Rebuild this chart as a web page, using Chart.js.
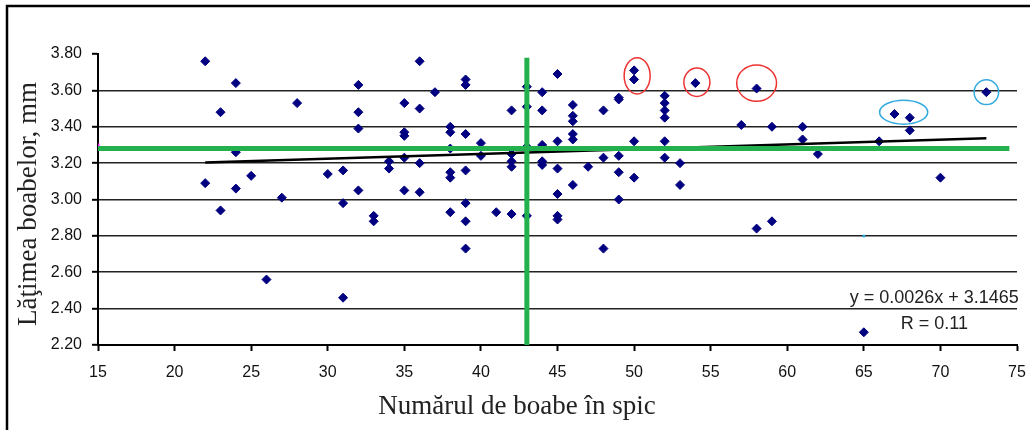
<!DOCTYPE html>
<html>
<head>
<meta charset="utf-8">
<script src="https://cdn.jsdelivr.net/npm/chart.js@4"></script>
<style>
  html, body { margin: 0; padding: 0; background: #fff; }
</style>
</head>
<body>
<canvas id="myChart" width="1030" height="430"></canvas>
<script>
  // numărul de boabe în spic / lăţimea boabelor (mm), câte o pereche pe spic
  const numarBoabe = [
    22, 22, 23, 23, 24, 24, 24, 25, 26, 27, 28, 30,
    31, 31, 31, 32, 32, 32, 32, 33, 33, 34, 34,
    35, 35, 35, 35, 35, 36, 36, 36, 36, 37,
    38, 38, 38, 38, 38, 38, 39, 39, 39, 39, 39, 39, 39,
    40, 40, 41, 42, 42, 42, 42, 42, 43, 43, 43, 43,
    44, 44, 44, 44, 44, 45, 45, 45, 45, 45, 45,
    46, 46, 46, 46, 46, 46, 47, 48, 48, 48,
    49, 49, 49, 49, 49, 50, 50, 50, 50,
    52, 52, 52, 52, 52, 52, 53, 53, 54, 57, 58, 58, 59, 59,
    61, 61, 62, 65, 66, 67, 68, 68, 70, 73
  ];
  const latimeBoabe = [
    3.76, 3.09, 3.48, 2.94, 3.64, 3.26, 3.06, 3.13, 2.56, 3.01, 3.53, 3.14,
    3.16, 2.98, 2.46, 3.63, 3.48, 3.39, 3.05, 2.91, 2.88, 3.21, 3.17,
    3.53, 3.37, 3.35, 3.23, 3.05, 3.76, 3.50, 3.20, 3.04, 3.59,
    3.40, 3.37, 3.28, 3.15, 3.12, 2.93, 3.66, 3.63, 3.36, 3.16, 2.98, 2.88, 2.73,
    3.31, 3.24, 2.93, 3.49, 3.25, 3.21, 3.18, 2.92, 3.62, 3.51, 3.29, 2.91,
    3.59, 3.49, 3.30, 3.21, 3.19, 3.69, 3.32, 3.17, 3.03, 2.91, 2.89,
    3.52, 3.46, 3.43, 3.36, 3.33, 3.08, 3.18, 3.49, 3.23, 2.73,
    3.56, 3.55, 3.24, 3.15, 3.00, 3.71, 3.66, 3.32, 3.12,
    3.57, 3.53, 3.49, 3.45, 3.32, 3.23, 3.20, 3.08, 3.64, 3.41, 3.61, 2.84, 3.40, 2.88,
    3.40, 3.33, 3.25, 2.27, 3.32, 3.47, 3.45, 3.38, 3.12, 3.59
  ];

  // punct izolat (marcaj mic, albastru deschis)
  const punctSeparatX = [65];
  const punctSeparatY = [2.80];

  // mediile: linia orizontală şi cea verticală
  const mediaLatime = 3.28;
  const mediaBoabe = 43;
  const orizontalaX = [15, 74.5];
  const verticalaY = [2.20, 3.78];

  // dreapta de regresie
  const panta = 0.0026;
  const interceptie = 3.1465;
  const regresieX = [22, 73];
  const ecuatie = 'y = 0.0026x + 3.1465';
  const corelatie = 'R = 0.11';
  const pozitieEcuatie = [69.6, 2.457];
  const pozitieCorelatie = [69.6, 2.318];

  // titlurile axelor
  const titluX = 'Numărul de boabe în spic';
  const titluY = 'Lăţimea boabelor, mm';

  // elipsele de evidenţiere: [x, y, razaX, razaY] în unităţile axelor
  const elipseRosii = [
    [50.2, 3.680, 0.85, 0.100],
    [54.1, 3.645, 0.85, 0.078],
    [58.0, 3.640, 1.30, 0.100]
  ];
  const elipseAlbastre = [
    [67.6, 3.480, 1.57, 0.066],
    [73.0, 3.590, 0.80, 0.068]
  ];

  const xTicks = [15, 20, 25, 30, 35, 40, 45, 50, 55, 60, 65, 70, 75];

  const puncte = numarBoabe.map((x, i) => ({ x: x, y: latimeBoabe[i] }));
  const regresie = regresieX.map(x => ({ x: x, y: panta * x + interceptie }));

  const decor = {
    id: 'decor',
    afterDatasetsDraw(chart) {
      const ctx = chart.ctx;
      const xs = chart.scales.x, ys = chart.scales.y;
      ctx.save();
      const elipsa = (e, culoare) => {
        const cx = xs.getPixelForValue(e[0]), cy = ys.getPixelForValue(e[1]);
        const rx = Math.abs(xs.getPixelForValue(e[0] + e[2]) - cx);
        const ry = Math.abs(ys.getPixelForValue(e[1] + e[3]) - cy);
        ctx.beginPath();
        ctx.ellipse(cx, cy, rx, ry, 0, 0, Math.PI * 2);
        ctx.strokeStyle = culoare;
        ctx.lineWidth = 1.5;
        ctx.stroke();
      };
      elipseRosii.forEach(e => elipsa(e, '#ee3333'));
      elipseAlbastre.forEach(e => elipsa(e, '#33aadd'));

      ctx.fillStyle = '#222';
      ctx.font = '18px "Liberation Sans", Arial, sans-serif';
      ctx.textAlign = 'center';
      ctx.textBaseline = 'middle';
      ctx.fillText(ecuatie, xs.getPixelForValue(pozitieEcuatie[0]), ys.getPixelForValue(pozitieEcuatie[1]));
      ctx.fillText(corelatie, xs.getPixelForValue(pozitieCorelatie[0]), ys.getPixelForValue(pozitieCorelatie[1]));
      ctx.restore();
    },
    afterDraw(chart) {
      const ctx = chart.ctx;
      ctx.save();
      // titlurile axelor
      ctx.fillStyle = '#222';
      ctx.font = '27px "Liberation Serif", "Times New Roman", serif';
      ctx.textAlign = 'center';
      ctx.textBaseline = 'middle';
      ctx.fillText(titluX, 517, 407);
      ctx.translate(29, 204);
      ctx.rotate(-Math.PI / 2);
      ctx.fillText(titluY, 0, 0);
      ctx.setTransform(1, 0, 0, 1, 0, 0);
      // chenarul (sus şi stânga)
      ctx.strokeStyle = '#000';
      ctx.lineWidth = 2.5;
      ctx.beginPath();
      ctx.moveTo(7, 440);
      ctx.lineTo(7, 6);
      ctx.lineTo(1030, 6);
      ctx.stroke();
      ctx.restore();
    }
  };

  const data = {
    datasets: [
      {
        label: 'media boabe',
        data: verticalaY.map(y => ({ x: mediaBoabe, y: y })),
        showLine: true,
        borderColor: '#22b14c',
        borderWidth: 5,
        pointRadius: 0
      },
      {
        label: 'media latime',
        data: orizontalaX.map(x => ({ x: x, y: mediaLatime })),
        showLine: true,
        borderColor: '#22b14c',
        borderWidth: 5,
        pointRadius: 0
      },
      {
        label: 'capete',
        data: [{ x: 15, y: 3.30 }, { x: 43, y: 2.20 }],
        pointStyle: 'rect',
        pointRadius: 2,
        backgroundColor: '#ff00ff',
        borderWidth: 0
      },
      {
        label: 'regresie',
        data: regresie,
        showLine: true,
        borderColor: '#000',
        borderWidth: 2.5,
        pointRadius: 0
      },
      {
        label: 'separat',
        data: punctSeparatX.map((x, i) => ({ x: x, y: punctSeparatY[i] })),
        pointRadius: 1.5,
        backgroundColor: '#29aae1',
        borderWidth: 0
      },
      {
        label: 'Lăţimea boabelor',
        data: puncte,
        pointStyle: 'rectRot',
        pointRadius: 4.5,
        backgroundColor: '#000080',
        borderColor: '#000080',
        borderWidth: 1
      }
    ]
  };

  const config = {
    type: 'scatter',
    data: data,
    options: {
      responsive: false,
      animation: false,
      layout: { padding: { top: 54, right: 13, left: 0, bottom: 0 } },
      plugins: { legend: { display: false }, tooltip: { enabled: false } },
      scales: {
        x: {
          type: 'linear',
          min: 15,
          max: 75,
          afterBuildTicks: s => { s.ticks = xTicks.map(v => ({ value: v })); },
          afterFit: s => { s.height = 85; s.paddingLeft = 0; s.paddingRight = 0; },
          border: { display: true, color: '#000', width: 2 },
          grid: { drawOnChartArea: false, drawTicks: true, tickLength: 6, tickColor: '#000', tickWidth: 2 },
          ticks: {
            padding: 12,
            color: '#111',
            font: { family: '"Liberation Sans", Arial, sans-serif', size: 16 }
          }
        },
        y: {
          min: 2.2,
          max: 3.8,
          afterFit: s => { s.width = 98; },
          border: { display: true, color: '#000', width: 2 },
          grid: {
            color: c => (c.tick && c.tick.value > 3.79) ? 'rgba(0,0,0,0)' : '#222',
            lineWidth: 1.6,
            tickLength: 6,
            tickColor: '#000',
            tickWidth: 2
          },
          ticks: {
            stepSize: 0.2,
            padding: 10,
            color: '#111',
            font: { family: '"Liberation Sans", Arial, sans-serif', size: 16 },
            callback: v => v.toFixed(2)
          }
        }
      }
    },
    plugins: [decor]
  };

  const myChart = new Chart(document.getElementById('myChart'), config);
</script>
</body>
</html>
